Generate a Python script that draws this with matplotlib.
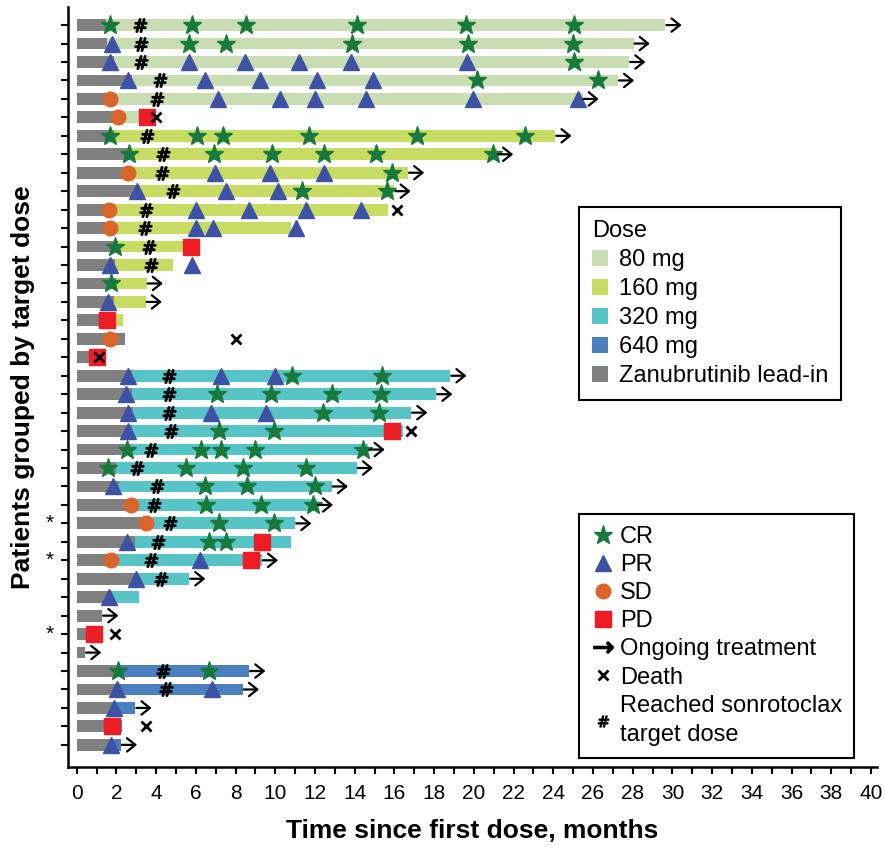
import matplotlib.pyplot as plt
from matplotlib.lines import Line2D
from matplotlib.patches import Patch

# patients from top to bottom
dose = ["80 mg", "80 mg", "80 mg", "80 mg", "80 mg", "80 mg",
        "160 mg", "160 mg", "160 mg", "160 mg", "160 mg", "160 mg", "160 mg",
        "160 mg", "160 mg", "160 mg", "160 mg", "160 mg", "160 mg",
        "320 mg", "320 mg", "320 mg", "320 mg", "320 mg", "320 mg", "320 mg", "320 mg",
        "320 mg", "320 mg", "320 mg", "320 mg", "320 mg", "320 mg", "320 mg", "320 mg",
        "640 mg", "640 mg", "640 mg", "640 mg", "640 mg"]

lead_in_end = [1.45, 1.54, 1.9, 2.78, 1.95, 1.87,
               1.87, 2.78, 2.78, 3.0, 1.95, 1.95, 2.1, 1.95, 2.0, 1.87, 1.2, 2.45, 0.7,
               2.78, 2.78, 2.83, 2.78, 2.72, 2.0, 2.15, 2.72, 3.5, 2.94, 2.0, 3.1, 1.78, 1.28, 0.5, 0.42,
               2.0, 2.2, 1.93, 1.52, 1.78]

treat_end = [29.64, 28.04, 27.82, 27.25, 25.47, 3.6,
             24.1, 21.16, 16.68, 16.0, 15.67, 10.8, 5.55, 4.85, 3.52, 3.47, 2.32, 2.45, 0.7,
             18.81, 18.1, 16.84, 16.45, 14.69, 14.1, 12.84, 12.09, 11.0, 10.8, 9.32, 5.66, 3.15, 1.28, 0.5, 0.42,
             8.68, 8.36, 2.95, 2.27, 2.22]

cr = [[1.65, 5.79, 8.53, 14.1, 19.61, 25.02], [5.64, 7.5, 13.88, 19.68, 24.99], [25.02],
      [20.18, 26.23], [], [],
      [1.65, 6.07, 7.35, 11.72, 17.13, 22.58], [2.65, 6.93, 9.82, 12.43, 15.08, 20.95], [15.87],
      [11.33, 15.6], [], [], [1.95], [], [1.73], [], [], [], [],
      [10.83, 15.37], [7.08, 9.78, 12.85, 15.33], [12.42, 15.24], [7.18, 9.94],
      [2.53, 6.26, 7.27, 8.98, 14.41], [1.56, 5.5, 8.36, 11.55], [6.46, 8.59, 12.0],
      [6.5, 9.27, 11.92], [7.18, 9.94], [6.66, 7.5], [], [], [], [], [], [],
      [2.07, 6.66], [], [], [], []]

pr = [[], [1.76], [1.67, 5.64, 8.47, 11.18, 13.82, 19.65], [2.57, 6.46, 9.23, 12.12, 14.94],
      [7.1, 10.24, 12.0, 14.56, 19.98, 25.24], [],
      [], [], [6.97, 9.74, 12.46], [3.05, 7.5, 10.16], [6.0, 8.7, 11.56, 14.33], [6.0, 6.85, 11.03],
      [], [1.68, 5.79], [], [1.56], [], [], [],
      [2.57, 7.28, 9.96], [2.47], [2.6, 6.75, 9.53], [2.6], [], [], [1.83], [], [], [2.55],
      [6.21], [2.99], [1.64], [], [], [],
      [], [2.05, 6.83], [1.9], [], [1.71]]

sd = [[], [], [], [], [1.7], [2.1],
      [], [], [2.6], [], [1.6], [1.68], [], [], [], [], [], [1.68], [],
      [], [], [], [], [], [], [], [2.72], [3.5], [], [1.73], [], [], [], [], [],
      [], [], [], [], []]

pd_ = [[], [], [], [], [], [3.55],
       [], [], [], [], [], [], [5.76], [], [], [], [1.52], [], [1.0],
       [], [], [], [15.89], [], [], [], [], [], [9.32], [8.8], [], [], [], [0.85], [],
       [], [], [], [1.78], []]

target_dose = [3.2, 3.25, 3.22, 4.2, 4.06, None,
               3.52, 4.36, 4.31, 4.87, 3.49, 3.44, 3.64, 3.74, None, None, None, None, None,
               4.67, 4.63, 4.67, 4.75, 3.75, 3.05, 4.03, 3.91, 4.7, 4.08, 3.74, 4.25, None, None, None, None,
               4.36, 4.48, None, None, None]

ongoing = [1, 1, 1, 1, 1, 0,
           1, 1, 1, 1, 0, 0, 0, 0, 1, 1, 0, 0, 0,
           1, 1, 1, 0, 1, 1, 1, 1, 1, 0, 1, 1, 0, 1, 0, 1,
           1, 1, 1, 0, 1]

death = [None, None, None, None, None, 3.98,
         None, None, None, None, 16.15, None, None, None, None, None, None, 8.02, 1.12,
         None, None, None, 16.83, None, None, None, None, None, None, None, None, None, None, 1.93, None,
         None, None, None, 3.49, None]

starred = [27, 29, 33]

dose_labels = ["80 mg", "160 mg", "320 mg", "640 mg"]
dose_colors = ["#C8DDB1", "#C8DC63", "#57C5C7", "#4A80BE"]
lead_color = "#808080"
c_cr, c_pr, c_sd, c_pd = "#177A3C", "#3D52A5", "#D9652B", "#EE1D25"

plt.rcParams['font.family'] = ['Liberation Sans', 'DejaVu Sans']

fig = plt.figure(figsize=(8.84, 8.49), dpi=100)
ax = fig.add_axes([68 / 884, 1 - 767 / 849, 809 / 884, 760 / 849])

rows = list(range(len(dose)))
h = 0.64

# bars
ax.barh(rows, lead_in_end, height=h, color=lead_color, zorder=1)
col = [dose_colors[dose_labels.index(d)] for d in dose]
widths = [e - s for s, e in zip(lead_in_end, treat_end)]
ax.barh(rows, widths, left=lead_in_end, height=h, color=col, zorder=1)

# markers
for i in rows:
    if target_dose[i] is not None:
        ax.plot(target_dose[i], i, marker=r'$\#$', ms=9.5, color='black', mew=1.0, zorder=3)
    ax.plot(cr[i], [i] * len(cr[i]), ls='none', marker='*', ms=14, color=c_cr, zorder=4)
    ax.plot(pr[i], [i] * len(pr[i]), ls='none', marker='^', ms=11, color=c_pr, zorder=4)
    ax.plot(sd[i], [i] * len(sd[i]), ls='none', marker='o', ms=10.5, color=c_sd, zorder=4)
    ax.plot(pd_[i], [i] * len(pd_[i]), ls='none', marker='s', ms=11, color=c_pd, zorder=4)
    if death[i] is not None:
        ax.plot(death[i], i, marker='x', ms=7.5, mew=2, color='black', zorder=5)
    if ongoing[i]:
        ax.annotate("", xy=(treat_end[i] + 0.82, i), xytext=(treat_end[i] + 0.05, i),
                    arrowprops=dict(arrowstyle="->,head_length=0.5,head_width=0.4",
                                    lw=1.6, color='black', mutation_scale=12,
                                    shrinkA=0, shrinkB=0), zorder=5)

for i in starred:
    ax.text(-1.35, i, "*", ha='center', va='center', fontsize=15, clip_on=False)

ax.set_xlim(-0.44, 40.3)
ax.set_ylim(40.2, -0.98)
ax.set_xticks(range(0, 41, 2))
ax.set_xticks(range(0, 41), minor=True)
ax.set_yticks(rows)
ax.set_yticklabels([])
ax.tick_params(axis='x', which='both', length=5, width=1.5, pad=7)
ax.tick_params(axis='y', length=5, width=1.5)
for lab in ax.get_xticklabels():
    lab.set_fontsize(15)
for s in ['top', 'right']:
    ax.spines[s].set_visible(False)
for s in ['left', 'bottom']:
    ax.spines[s].set_linewidth(1.8)

ax.set_xlabel("Time since first dose, months", fontsize=19, fontweight='bold')
ax.xaxis.set_label_coords(0.5, -0.068)
ax.set_ylabel("Patients grouped by target dose", fontsize=19, fontweight='bold')
ax.yaxis.set_label_coords(-0.041, 0.5)

# legends
dose_handles = [Patch(facecolor=c, edgecolor='none') for c in dose_colors]
dose_handles.append(Patch(facecolor=lead_color, edgecolor='none'))
leg1 = ax.legend(dose_handles, dose_labels + ["Zanubrutinib lead-in"], title="Dose",
                 loc='upper left', bbox_to_anchor=(579 / 884, 1 - 207 / 849),
                 bbox_transform=fig.transFigure, fontsize=17, title_fontsize=17,
                 alignment='left', fancybox=False, framealpha=1, edgecolor='black',
                 handlelength=0.66, handleheight=0.66, handletextpad=0.47,
                 labelspacing=0.3, borderpad=0.55, borderaxespad=0)
leg1.get_frame().set_linewidth(1.5)
ax.add_artist(leg1)

resp_handles = [
    Line2D([], [], ls='none', marker='*', ms=14, color=c_cr),
    Line2D([], [], ls='none', marker='^', ms=11, color=c_pr),
    Line2D([], [], ls='none', marker='o', ms=10.5, color=c_sd),
    Line2D([], [], ls='none', marker='s', ms=11, color=c_pd),
    Line2D([], [], ls='none', marker=r'$\rightarrow$', ms=14, color='black'),
    Line2D([], [], ls='none', marker='x', ms=7, mew=2, color='black'),
    Line2D([], [], ls='none', marker=r'$\#$', ms=8, mew=0.8, color='black'),
]
resp_labels = ["CR", "PR", "SD", "PD", "Ongoing treatment", "Death",
               "Reached sonrotoclax\ntarget dose"]
leg2 = ax.legend(resp_handles, resp_labels, loc='upper left',
                 bbox_to_anchor=(579 / 884, 1 - 514 / 849), bbox_transform=fig.transFigure,
                 fontsize=17, fancybox=False, framealpha=1, edgecolor='black',
                 handlelength=1.0, handletextpad=0.24, labelspacing=0.26,
                 borderpad=0.5, borderaxespad=0)
leg2.get_frame().set_linewidth(1.5)
leg2.get_texts()[-1].set_linespacing(1.45)

fig.savefig("out.png", dpi=100)
